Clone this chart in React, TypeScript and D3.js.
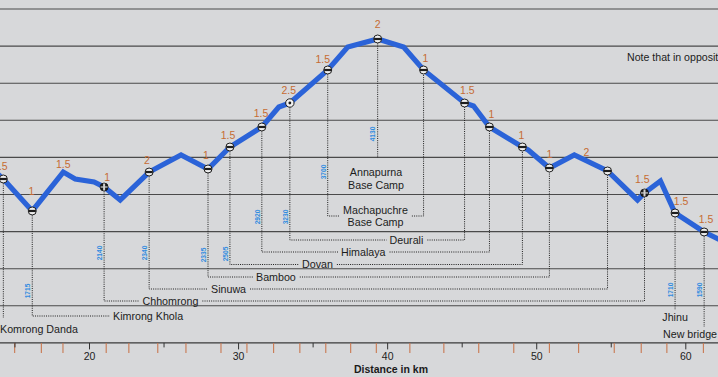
import React from "react";
import * as d3 from "d3";

const W = 718;
const H = 377;

// ---- data ----
const profileKm = [13.42, 14.22, 16.16, 18.24, 19.04, 20.31, 20.98, 22.06, 24.0, 26.14, 27.95, 29.42, 31.56, 32.7, 33.44, 35.98, 37.32, 39.33, 41.07, 42.41, 45.16, 45.76, 46.83, 49.04, 49.43, 50.85, 52.52, 54.75, 56.76, 57.23, 58.3, 59.28, 61.23, 62.97];
const profileElev = [2357, 2209, 1778, 2303, 2209, 2169, 2101, 1926, 2303, 2532, 2344, 2640, 2910, 3179, 3233, 3678, 3988, 4096, 3988, 3678, 3233, 3193, 2910, 2640, 2600, 2357, 2532, 2317, 1926, 2021, 2182, 1751, 1495, 1320];

const stopNames = ["Komrong Danda", "Kimrong Khola", "Chhomrong", "Sinuwa", "Bamboo", "Dovan", "Himalaya", "Deurali", "Machapuchre Base Camp", "Annapurna Base Camp", "Machapuchre Base Camp", "Deurali", "Himalaya", "Dovan", "Bamboo", "Sinuwa", "Chhomrong", "Jhinu", "New bridge"];
const stopKm = [14.22, 16.16, 20.98, 24.0, 27.95, 29.42, 31.56, 33.44, 35.98, 39.33, 42.41, 45.16, 46.83, 49.04, 50.85, 54.75, 57.23, 59.28, 61.23];
const stopElev = [2209, 1778, 2101, 2303, 2344, 2640, 2910, 3233, 3678, 4096, 3678, 3233, 2910, 2640, 2357, 2317, 2021, 1751, 1495];
const stopHeightText = ["", "1715", "2140", "2340", "2335", "2505", "2920", "3230", "3700", "4130", "", "", "", "", "", "", "", "1710", "1590"];

const hourText = ["1.5", "1", "1.5", "1", "2", "1", "1.5", "1.5", "2.5", "1.5", "2", "1", "1.5", "1", "1", "1", "2", "1.5", "1.5", "1.5"];
const hourKm = [14.02, 16.1, 18.24, 21.19, 23.86, 27.81, 29.29, 31.5, 33.37, 35.65, 39.33, 42.54, 45.35, 46.96, 48.97, 50.85, 53.33, 57.08, 59.69, 61.36];
const hourElev = [2384, 2047, 2411, 2236, 2465, 2532, 2802, 3098, 3408, 3826, 4298, 3840, 3408, 3085, 2802, 2546, 2573, 2209, 1913, 1670];

const majorTicks = [20, 30, 40, 50, 60];
const minorTicks = [15, 25, 35, 45, 55];
const orangeTickKm = [14.98, 16.77, 18.22, 21.12, 22.64, 24.58, 26.47, 28.82, 30.56, 32.35, 34.11, 35.85, 37.52, 39.24, 41.49, 43.77, 46.11, 48.46, 50.85, 52.81, 55.2, 57.01, 58.73, 61.18];
const gridElev = [500, 1000, 1500, 2000, 2500, 3000, 3500, 4000, 4500];

const FONT = '"Liberation Sans", Arial, sans-serif';

function measure(text: string, size: number, weight = "normal") {
  const c = document.createElement("canvas").getContext("2d");
  if (!c) return text.length * size * 0.55;
  c.font = `${weight} ${size}px ${FONT}`;
  return c.measureText(text).width;
}

export default function App() {
  const x = d3.scaleLinear().domain([20, 60]).range([89.5, 685.8]);
  const y = d3.scaleLinear().domain([0, 4500]).range([342.9, 9]);

  const line = d3
    .line<number>()
    .x((_, i) => x(profileKm[i]))
    .y((d) => y(d))
    .curve(d3.curveLinear);

  // label layout (pixel rows for the place-name ladder)
  type L = { kind: string; rowY?: number; textX?: number; endY?: number; textY?: number; anchor?: string; cx?: number; lines?: number[]; hy?: number };
  const layout: Record<string, L> = {
    "Komrong Danda": { kind: "below", endY: 318, textY: 329, textX: 0, anchor: "start" },
    "Kimrong Khola": { kind: "row", rowY: 316, textX: 113, hy: 291 },
    Chhomrong: { kind: "row", rowY: 301, textX: 142.5, hy: 253 },
    Sinuwa: { kind: "row", rowY: 289, textX: 211, hy: 253 },
    Bamboo: { kind: "row", rowY: 277, textX: 256, hy: 255 },
    Dovan: { kind: "row", rowY: 264.5, textX: 302, hy: 254 },
    Himalaya: { kind: "row", rowY: 252, textX: 341, hy: 217 },
    Deurali: { kind: "row", rowY: 240, textX: 389.5, hy: 217 },
    "Machapuchre Base Camp": { kind: "row2", rowY: 216, cx: 375.5, lines: [210, 222], hy: 172 },
    "Annapurna Base Camp": { kind: "stack", endY: 158, cx: 376, lines: [172, 185], hy: 134 },
    Jhinu: { kind: "below", endY: 310, textY: 317, anchor: "middle", hy: 290 },
    "New bridge": { kind: "below", endY: 327, textY: 334, textX: 663, anchor: "start", hy: 290 },
  };
  const markerKind: Record<number, string> = { 2: "dark", 7: "point", 16: "dark" };

  const FS = 10.7;
  const leaders: string[] = [];
  const texts: React.ReactNode[] = [];
  const seen: Record<string, number> = {};
  stopNames.forEach((n, i) => {
    if (seen[n] !== undefined) return;
    seen[n] = i;
    const j = stopNames.indexOf(n, i + 1);
    const L = layout[n];
    const x1 = x(stopKm[i]);
    const y1 = y(stopElev[i]);
    if (L.kind === "row" || L.kind === "row2") {
      const label = L.kind === "row2" ? n.split(" ")[0] : n;
      const w = measure(label, FS);
      const tx = L.kind === "row2" ? (L.cx as number) - w / 2 : (L.textX as number);
      let d = `M${x1},${y1}V${L.rowY}H${tx - 3}`;
      if (j > 0) {
        const x2 = x(stopKm[j]);
        const y2 = y(stopElev[j]);
        d += `M${tx + w + 4},${L.rowY}H${x2}V${y2}`;
      }
      leaders.push(d);
      if (L.kind === "row") {
        texts.push(
          <text key={n} x={tx} y={L.rowY} dy="0.35em" fontSize={FS} fill="#1c1c1c">
            {n}
          </text>
        );
      } else {
        const parts = ["Machapuchre", "Base Camp"];
        parts.forEach((p, k) =>
          texts.push(
            <text key={n + k} x={L.cx} y={(L.lines as number[])[k]} dy="0.35em" fontSize={FS} textAnchor="middle" fill="#1c1c1c">
              {p}
            </text>
          )
        );
      }
    } else if (L.kind === "stack") {
      leaders.push(`M${x1},${y1}V${L.endY}`);
      ["Annapurna", "Base Camp"].forEach((p, k) =>
        texts.push(
          <text key={n + k} x={L.cx} y={(L.lines as number[])[k]} dy="0.35em" fontSize={FS} textAnchor="middle" fill="#1c1c1c">
            {p}
          </text>
        )
      );
    } else {
      leaders.push(`M${x1},${y1}V${L.endY}`);
      texts.push(
        <text key={n} x={L.anchor === "middle" ? x1 : L.textX} y={L.textY} dy="0.35em" fontSize={FS} textAnchor={L.anchor} fill="#1c1c1c">
          {n}
        </text>
      );
    }
  });

  const orange = "#c66c33";

  return (
    <svg width={W} height={H} style={{ position: "absolute", left: 0, top: 0 }} fontFamily={FONT}>
      <rect width={W} height={H} fill="#d7d8da" />
      {/* grid */}
      {gridElev.map((g) => (
        <line key={g} x1={0} x2={W} y1={y(g)} y2={y(g)} stroke="#4a4a4a" strokeWidth={1.1} />
      ))}
      {/* axis */}
      <line x1={0} x2={W} y1={y(0)} y2={y(0)} stroke="#3a3a3a" strokeWidth={1.3} />
      {orangeTickKm.map((k) => (
        <line key={"o" + k} x1={x(k)} x2={x(k)} y1={y(0)} y2={y(0) + 10} stroke="#c97850" strokeWidth={1.1} />
      ))}
      {minorTicks.map((k) => (
        <line key={"m" + k} x1={x(k)} x2={x(k)} y1={y(0)} y2={y(0) + 4.5} stroke="#333" strokeWidth={1} />
      ))}
      {majorTicks.map((k) => (
        <g key={"M" + k}>
          <line x1={x(k)} x2={x(k)} y1={y(0)} y2={y(0) + 6.5} stroke="#333" strokeWidth={1} />
          <text x={x(k)} y={y(0) + 13.5} dy="0.35em" textAnchor="middle" fontSize={10.5} fill="#222">
            {k}
          </text>
        </g>
      ))}
      <text x={391} y={369} dy="0.35em" textAnchor="middle" fontSize={10.5} fontWeight="bold" fill="#1a1a1a">
        Distance in km
      </text>
      <text x={627} y={57} dy="0.35em" fontSize={10.6} fill="#1c1c1c">
        Note that in opposite direction
      </text>

      {/* leaders */}
      {leaders.map((d, i) => (
        <path key={i} d={d} fill="none" stroke="#1e1e1e" strokeWidth={1} strokeDasharray="1 1.2" />
      ))}
      {texts}

      {/* printed heights */}
      {stopHeightText.map((t, i) => {
        if (!t) return null;
        const L = layout[stopNames[i]];
        return (
          <text key={"h" + i} transform={`translate(${x(stopKm[i]) - 4.5},${L.hy}) rotate(-90)`} dy="0.35em" textAnchor="middle" fontSize={6.6} fontWeight="bold" fill="#2f8be0">
            {t}
          </text>
        );
      })}

      {/* profile */}
      <path d={line(profileElev) || ""} fill="none" stroke="#2b63d8" strokeWidth={5.2} strokeLinejoin="miter" />

      {/* stop markers */}
      {stopKm.map((k, i) => {
        const cx = x(k);
        const cy = y(stopElev[i]);
        const kind = markerKind[i] || "band";
        if (kind === "dark")
          return (
            <g key={"s" + i}>
              <circle cx={cx} cy={cy} r={4} fill="#1d1d1d" stroke="#111" strokeWidth={0.8} />
              <rect x={cx - 1} y={cy - 3.5} width={2} height={7} fill="#cfcfcf" />
              <rect x={cx - 3.5} y={cy - 0.6} width={7} height={1.2} fill="#cfcfcf" />
            </g>
          );
        if (kind === "point")
          return (
            <g key={"s" + i}>
              <circle cx={cx} cy={cy} r={4.2} fill="#f2f2f2" stroke="#1d1d1d" strokeWidth={1} />
              <circle cx={cx} cy={cy} r={1.4} fill="#1d1d1d" />
            </g>
          );
        return (
          <g key={"s" + i}>
            <circle cx={cx} cy={cy} r={4} fill="#f0f0f0" stroke="#1d1d1d" strokeWidth={1} />
            <rect x={cx - 3.6} y={cy - 1.1} width={7.2} height={2.2} fill="#1d1d1d" />
          </g>
        );
      })}

      {/* hour labels */}
      {hourText.map((t, i) => (
        <text key={"t" + i} x={x(hourKm[i])} y={y(hourElev[i])} dy="0.35em" textAnchor="middle" fontSize={10.5} fill={orange}>
          {t}
        </text>
      ))}
    </svg>
  );
}
